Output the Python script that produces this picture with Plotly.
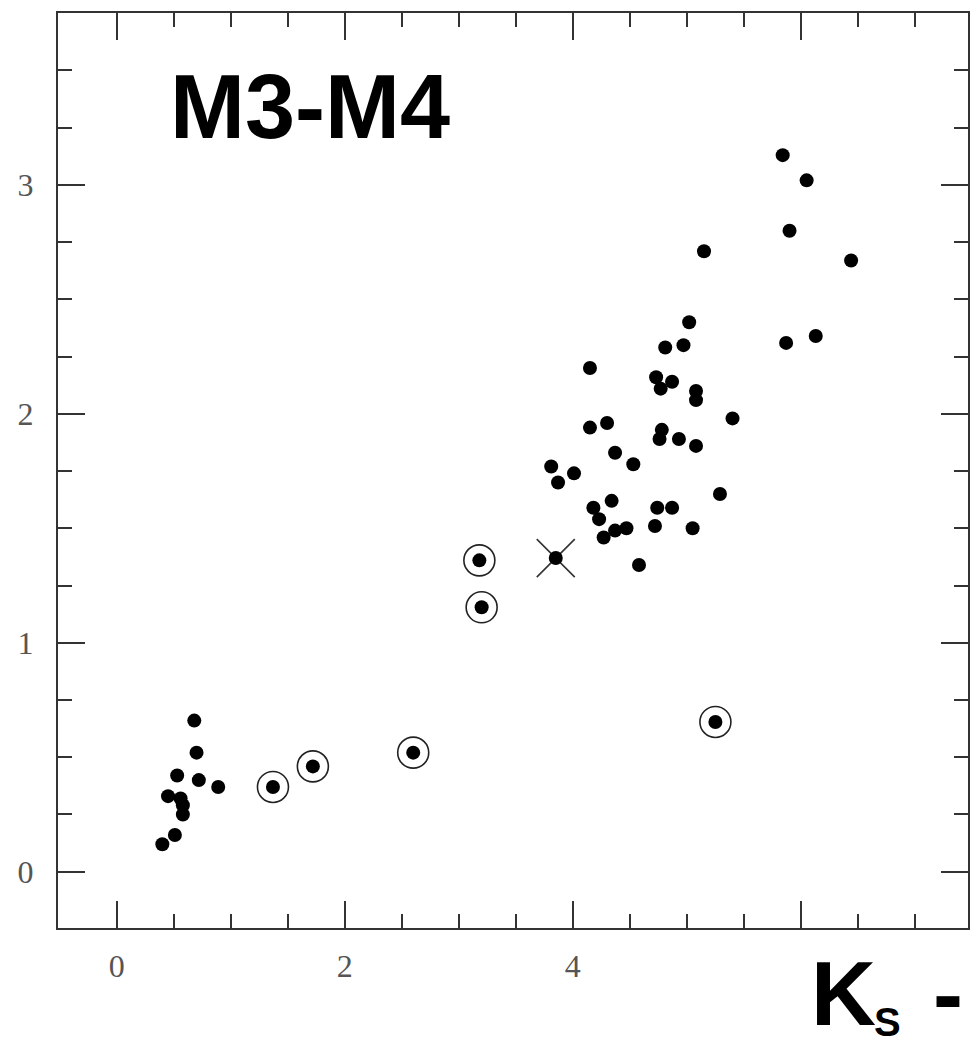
import plotly.graph_objects as go

# ---- data ----
# plain filled points
dot_x = [0.68, 0.70, 0.53, 0.72, 0.89, 0.45, 0.56, 0.58, 0.58, 0.51, 0.40,
         5.84, 6.05, 5.90, 6.44, 5.87, 6.13, 5.15, 5.02, 4.81, 4.97, 4.15,
         4.73, 4.87, 4.77, 5.08, 5.08, 5.40, 4.30, 4.15, 4.78, 4.76, 4.93,
         5.08, 4.37, 4.53, 3.81, 4.01, 3.87, 5.29, 4.34, 4.18, 4.74, 4.87,
         4.23, 4.37, 4.47, 4.27, 4.72, 5.05, 4.58]
dot_y = [0.66, 0.52, 0.42, 0.40, 0.37, 0.33, 0.32, 0.29, 0.25, 0.16, 0.12,
         3.13, 3.02, 2.80, 2.67, 2.31, 2.34, 2.71, 2.40, 2.29, 2.30, 2.20,
         2.16, 2.14, 2.11, 2.10, 2.06, 1.98, 1.96, 1.94, 1.93, 1.89, 1.89,
         1.86, 1.83, 1.78, 1.77, 1.74, 1.70, 1.65, 1.62, 1.59, 1.59, 1.59,
         1.54, 1.49, 1.50, 1.46, 1.51, 1.50, 1.34]
# circled points
ring_x = [1.37, 1.72, 2.60, 3.18, 3.20, 5.25]
ring_y = [0.37, 0.46, 0.52, 1.36, 1.155, 0.654]
# crossed point
cross_x = [3.85]
cross_y = [1.37]

x_major = [0, 2, 4, 6]
x_labels = ["0", "2", "4", ""]
x_minor = [0.5, 1, 1.5, 2.5, 3, 3.5, 4.5, 5, 5.5, 6.5, 7]
y_major = [0, 1, 2, 3]
y_labels = ["0", "1", "2", "3"]
y_minor = [-0.25, 0.25, 0.5, 0.75, 1.25, 1.5, 1.75, 2.25, 2.5, 2.75,
           3.25, 3.5]

fig = go.Figure()
fig.add_trace(go.Scatter(x=ring_x, y=ring_y, mode="markers",
                         marker=dict(symbol="circle-open", size=31, color="#222",
                                     line=dict(width=1.6, color="#222")),
                         hoverinfo="skip"))
fig.add_trace(go.Scatter(x=cross_x, y=cross_y, mode="markers",
                         marker=dict(symbol="x-thin", size=38, color="#333",
                                     line=dict(width=1.6, color="#333")),
                         hoverinfo="skip"))
fig.add_trace(go.Scatter(x=dot_x + ring_x + cross_x, y=dot_y + ring_y + cross_y,
                         mode="markers",
                         marker=dict(symbol="circle", size=14, color="black",
                                     line=dict(width=0)),
                         hoverinfo="skip"))

tickfont = dict(family="Liberation Serif", size=32, color="#555")
common = dict(showline=True, linecolor="#333", linewidth=2, mirror="ticks",
              ticks="inside", ticklen=27, tickwidth=2, tickcolor="#333",
              showgrid=False, zeroline=False, tickfont=tickfont)

fig.update_xaxes(range=[-0.515, 7.465], tickvals=x_major, ticktext=x_labels,
                 minor=dict(tickvals=x_minor, ticks="inside", ticklen=14,
                            tickwidth=2, tickcolor="#333", showgrid=False),
                 ticklabelstandoff=9, **common)
fig.update_yaxes(range=[-0.246, 3.751], tickvals=y_major, ticktext=y_labels,
                 minor=dict(tickvals=y_minor, ticks="inside", ticklen=14,
                            tickwidth=2, tickcolor="#333", showgrid=False),
                 ticklabelstandoff=16, **common)

W, H = 971, 1046
L, R, T, B = 58, 1, 13, 118
pw, ph = W - L - R, H - T - B


def px(x):
    return (x - L) / pw


def py(y):
    return (H - B - y) / ph


bold = "Liberation Sans"
fig.add_annotation(text="<b>M3-M4</b>", xref="paper", yref="paper",
                   x=px(168), y=py(107), xanchor="left", yanchor="middle",
                   showarrow=False, font=dict(family=bold, size=90, color="black"))
fig.add_annotation(text="<b>K</b>", xref="paper", yref="paper",
                   x=px(811), y=py(994), xanchor="left", yanchor="middle",
                   showarrow=False, font=dict(family=bold, size=90, color="black"))
fig.add_annotation(text="<b>S</b>", xref="paper", yref="paper",
                   x=px(875), y=py(1045), xanchor="left", yanchor="bottom",
                   showarrow=False, borderpad=0,
                   font=dict(family=bold, size=40, color="black"))
fig.add_annotation(text="<b>-</b>", xref="paper", yref="paper",
                   x=px(933), y=py(994), xanchor="left", yanchor="middle",
                   showarrow=False, font=dict(family=bold, size=90, color="black"))

fig.update_layout(width=W, height=H, margin=dict(l=L, r=R, t=T, b=B),
                  paper_bgcolor="white", plot_bgcolor="white",
                  showlegend=False)

fig.write_html("out.html")
